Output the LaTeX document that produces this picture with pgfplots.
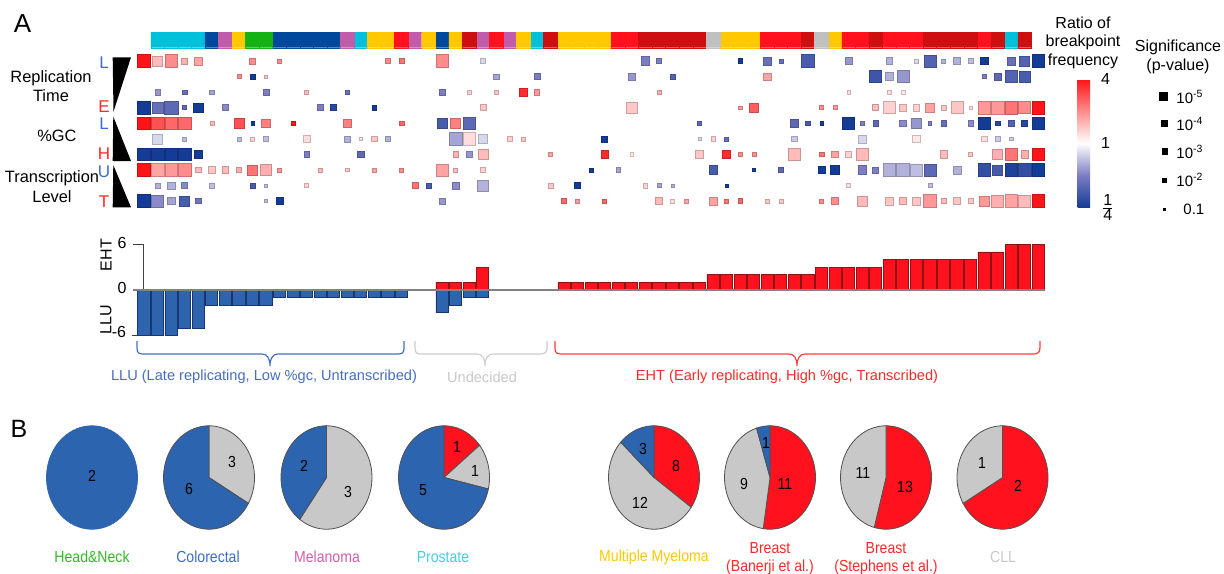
\documentclass[border=0pt]{standalone}
\usepackage{pgfplots}
\pgfplotsset{compat=1.18}
\usepackage{fontspec}
\setmainfont{Liberation Sans}
\newfontfamily\narrowfont[FakeStretch=0.88]{Liberation Sans}
\newcommand\fs[1]{\fontsize{#1}{#1}\selectfont}
\definecolor{cCyan}{RGB}{0,192,218}
\definecolor{cDBlue}{RGB}{0,72,155}
\definecolor{cPurple}{RGB}{192,92,170}
\definecolor{cYellow}{RGB}{255,200,0}
\definecolor{cGreen}{RGB}{20,178,20}
\definecolor{cRed}{RGB}{255,18,30}
\definecolor{cDRed}{RGB}{205,15,15}
\definecolor{cGray}{RGB}{192,192,192}
\definecolor{pBlue}{RGB}{44,100,175}
\definecolor{pGray}{RGB}{200,200,200}
\definecolor{pRed}{RGB}{255,18,30}
\definecolor{pEdge}{RGB}{80,80,80}
\definecolor{bBlue}{RGB}{46,99,174}
\definecolor{bBlueE}{RGB}{25,55,110}
\definecolor{bRed}{RGB}{255,18,30}
\definecolor{bRedE}{RGB}{140,20,20}
\definecolor{tBlue}{RGB}{60,110,200}
\definecolor{tRed}{RGB}{255,40,40}
\definecolor{lGreen}{RGB}{50,185,40}
\definecolor{lBlue}{RGB}{60,110,195}
\definecolor{lMag}{RGB}{205,95,175}
\definecolor{lCyan}{RGB}{70,205,225}
\definecolor{lYellow}{RGB}{255,200,0}
\definecolor{lGray}{RGB}{200,200,200}
\definecolor{zline}{RGB}{130,130,130}
\definecolor{brBlue}{RGB}{70,110,190}
\definecolor{brGray}{RGB}{205,205,205}
\definecolor{brRed}{RGB}{255,60,60}
\pgfplotsset{colormap={rb}{rgb255=(20,60,150) rgb255=(125,125,195) rgb255=(255,255,255) rgb255=(255,140,140) rgb255=(255,20,25)}}
\newcommand{\pie}[5]{\addplot[fill=#4, draw=#5, line width=0.4pt, domain=#2:#3, samples=72, variable=\ang] ({#1+45.5*sin(\ang)},{-477.5+51.7*cos(\ang)}) -- (axis cs:#1,-477.5) -- cycle;}
\begin{document}
\begin{tikzpicture}
\useasboundingbox (0,0) rectangle (612pt,-286.5pt);
% ---------------- category strip
\begin{axis}[at={(68.6pt,-23.85pt)}, anchor=south west, scale only axis,
  width=453.9pt, height=7.7pt, xmin=-0.5, xmax=66.5, ymin=0, ymax=1,
  hide axis, clip=false]
\addplot[ybar, bar width=1, bar shift=0pt, fill=cCyan, draw=cCyan, line width=0.2pt] coordinates {(1,1)(2,1)(3,1)(4,1)(16,1)(29,1)(64,1)};
\addplot[ybar, bar width=1, bar shift=0pt, fill=cDBlue, draw=cDBlue, line width=0.2pt] coordinates {(5,1)(10,1)(11,1)(12,1)(13,1)(14,1)(22,1)};
\addplot[ybar, bar width=1, bar shift=0pt, fill=cPurple, draw=cPurple, line width=0.2pt] coordinates {(6,1)(15,1)(20,1)(25,1)(27,1)};
\addplot[ybar, bar width=1, bar shift=0pt, fill=cYellow, draw=cYellow, line width=0.2pt] coordinates {(7,1)(17,1)(18,1)(21,1)(23,1)(28,1)(31,1)(32,1)(33,1)(34,1)(43,1)(44,1)(45,1)(51,1)};
\addplot[ybar, bar width=1, bar shift=0pt, fill=cGreen, draw=cGreen, line width=0.2pt] coordinates {(8,1)(9,1)};
\addplot[ybar, bar width=1, bar shift=0pt, fill=cRed, draw=cRed, line width=0.2pt] coordinates {(19,1)(26,1)(35,1)(36,1)(46,1)(47,1)(48,1)(52,1)(53,1)(55,1)(56,1)(57,1)(62,1)};
\addplot[ybar, bar width=1, bar shift=0pt, fill=cDRed, draw=cDRed, line width=0.2pt] coordinates {(24,1)(30,1)(37,1)(38,1)(39,1)(40,1)(41,1)(49,1)(54,1)(58,1)(59,1)(60,1)(61,1)(63,1)(65,1)};
\addplot[ybar, bar width=1, bar shift=0pt, fill=cGray, draw=cGray, line width=0.2pt] coordinates {(42,1)(50,1)};
\end{axis}
% ---------------- heatmap
\begin{axis}[at={(68.6pt,-104.4pt)}, anchor=south west, scale only axis,
  width=453.9pt, height=77.8pt, xmin=-0.5, xmax=66.5, ymin=-0.5, ymax=9.5,
  y dir=reverse, hide axis, clip=false,
  colormap name=rb, point meta min=-2, point meta max=2,
  colorbar, colorbar shift/.style={},
  colorbar style={at={(parent axis.north east)}, anchor=north west,
    xshift=16.35pt, yshift=-13.05pt,
    width=6.15pt, height=64pt, ytick={-2,0,2},
    yticklabels={{$\frac{\mbox{1}}{\mbox{4}}$},1,4},
    axis line style={draw=none}, major tick length=0pt,
    yticklabel style={font=\fs{8}, xshift=2pt}}]
\addplot[scatter, only marks, mark=square*, scatter src=explicit,
  mark options={line width=0.2pt},
  visualization depends on={\thisrow{s} \as \msz},
  scatter/@pre marker code/.append style={/tikz/mark size=\msz/12}]
  table[x=x, y=y, meta=c] {
x y c s
0 0 2 38
1 0 0.6 30
2 0 1.0 38
3 0 0.7 18
4 0 0.8 24
8 0 1.0 18
10 0 1.0 12
18 0 1.0 14
19 0 1.2 16
22 0 1.0 38
25 0 -0.3 14
37 0 -1.0 26
38 0 -1.0 14
44 0 -2 14
46 0 -1.2 24
47 0 -1.2 12
49 0 -1.5 38
52 0 -0.8 22
55 0 -0.6 20
57 0 -0.3 12
58 0 -1.4 36
59 0 -0.6 12
60 0 -0.6 20
61 0 -0.5 14
62 0 -2 22
64 0 -1.2 24
65 0 -1.4 30
66 0 -2 38
7 1 1.0 12
8 1 -2 14
9 1 0.5 10
26 1 -0.7 16
29 1 -1.0 18
36 1 -0.8 22
39 1 -1.4 14
46 1 0.8 22
54 1 -1.6 36
55 1 -0.6 24
56 1 -0.8 36
62 1 -1.0 12
63 1 -1.3 22
64 1 -1.4 36
65 1 -1.5 32
1 2 -0.8 16
3 2 -1.2 14
5 2 -0.7 14
9 2 -1.0 18
12 2 0.6 12
15 2 -1.2 14
22 2 -1.0 18
24 2 0.4 10
26 2 0.5 12
28 2 1.8 24
29 2 0.9 16
38 2 0.7 12
52 2 0.3 10
55 2 0.3 14
56 2 0.2 12
0 3 -2 38
1 3 -1.2 32
2 3 -1.3 40
3 3 -1.3 12
4 3 -2 28
6 3 -0.9 18
13 3 -1.0 18
14 3 -1.8 18
17 3 -2 14
25 3 0.5 18
36 3 0.5 32
44 3 0.9 10
45 3 1.4 26
50 3 1.0 12
51 3 0.9 12
54 3 0.6 18
55 3 0.4 36
56 3 0.5 22
57 3 0.4 20
58 3 0.8 28
59 3 0.5 16
60 3 0.5 36
61 3 0.3 10
62 3 0.9 38
63 3 0.9 38
64 3 1.2 38
65 3 1.0 36
66 3 2 38
0 4 2 38
1 4 1.5 38
2 4 1.3 38
3 4 1.3 38
5 4 0.6 12
7 4 1.5 30
8 4 -2 10
9 4 1.1 26
11 4 2 12
15 4 1.1 22
19 4 1.3 14
22 4 -1.5 32
23 4 1.1 30
24 4 -1.3 34
41 4 -1.3 12
48 4 -1.3 24
49 4 -1.5 14
50 4 -2 10
52 4 -2 36
53 4 -1.0 12
54 4 -1.3 16
56 4 -0.9 20
57 4 -0.8 30
58 4 -1.0 10
59 4 -1.2 16
61 4 -0.9 16
62 4 -2 34
63 4 -1.8 14
64 4 -1.4 20
65 4 -1.8 18
66 4 -2 38
1 5 -0.3 30
3 5 -0.5 12
7 5 -0.5 12
8 5 0.4 12
9 5 -0.5 16
12 5 0.3 20
15 5 -0.6 18
16 5 0.3 10
17 5 0.5 16
18 5 -0.6 16
23 5 -0.7 38
24 5 0.3 38
25 5 -0.3 28
27 5 0.4 16
28 5 0.5 12
34 5 -2 18
41 5 -0.3 10
42 5 0.4 14
43 5 -1.2 12
48 5 -0.4 16
53 5 -0.3 24
57 5 0.2 22
62 5 0.3 16
63 5 -0.4 14
64 5 -0.4 10
0 6 -2 38
1 6 -2 38
2 6 -2 38
3 6 -2 38
4 6 -2 26
12 6 -1.0 16
16 6 -1.3 20
23 6 0.7 16
24 6 -0.8 16
25 6 0.6 30
30 6 0.8 12
34 6 1.8 22
36 6 0.2 10
41 6 0.5 24
43 6 1.8 24
44 6 1.0 10
45 6 1.0 12
48 6 0.6 36
50 6 1.2 14
51 6 0.8 20
52 6 0.4 18
53 6 0.6 36
59 6 0.6 22
61 6 0.5 12
63 6 0.7 30
64 6 1.2 38
65 6 0.7 22
66 6 2 38
0 7 2 38
1 7 0.8 38
2 7 0.9 38
3 7 1.0 38
4 7 0.6 16
5 7 0.5 22
6 7 0.6 20
7 7 0.7 14
8 7 1.2 30
9 7 0.7 32
10 7 0.9 12
13 7 0.6 12
15 7 0.5 10
17 7 0.8 12
19 7 1.0 12
22 7 0.8 36
23 7 0.6 12
25 7 0.4 14
33 7 -2 12
35 7 -0.7 14
42 7 -1.5 26
45 7 -2 10
47 7 -1.3 16
50 7 -2 22
51 7 -2 26
53 7 -1.0 26
54 7 -1.0 18
55 7 -0.6 38
56 7 -0.6 38
57 7 -0.5 36
58 7 -1.3 36
60 7 -0.6 24
62 7 -1.7 38
63 7 -1.5 30
64 7 -1.9 38
65 7 -1.7 38
66 7 -2 38
1 8 -0.6 14
2 8 -0.6 22
3 8 -0.9 18
5 8 -0.5 14
8 8 -1.5 16
9 8 -0.5 10
12 8 0.4 12
20 8 1.2 18
21 8 -1.5 16
23 8 -0.9 20
25 8 -0.6 32
30 8 0.5 14
32 8 -2 18
37 8 0.4 14
38 8 -0.7 12
39 8 -0.6 10
43 8 -2 10
52 8 0.3 12
58 8 -0.5 12
0 9 -2 38
1 9 -0.9 36
2 9 -0.7 22
3 9 -1.5 30
4 9 -1.1 16
9 9 -0.5 10
10 9 -2 22
22 9 -0.8 18
31 9 1.3 14
32 9 0.9 12
34 9 1.3 12
38 9 0.6 20
39 9 0.3 12
40 9 0.8 12
42 9 0.8 24
43 9 1.2 12
44 9 1.3 14
46 9 0.5 12
47 9 0.5 12
50 9 1.0 12
51 9 1.0 20
53 9 0.6 30
55 9 0.5 24
56 9 0.6 20
57 9 0.5 24
58 9 0.9 38
59 9 0.6 16
60 9 0.5 20
61 9 0.5 16
62 9 0.9 30
63 9 0.7 36
64 9 0.8 38
65 9 0.6 36
66 9 2 38
};
% significance legend keys
\addplot[scatter, only marks, mark=square*, scatter src=explicit,
  scatter/use mapped color={draw=black, fill=black},
  mark options={line width=0.2pt},
  visualization depends on={\thisrow{s} \as \msz},
  scatter/@pre marker code/.append style={/tikz/mark size=\msz/12}]
  table[x=x, y=y, meta=c] {
x y c s
75.24 2.25 0 25
75.30 3.99 0 20
75.33 5.79 0 17
75.30 7.65 0 12
75.30 9.52 0 6
};
\end{axis}
% ---------------- bar chart
\begin{axis}[at={(68.6pt,-167.85pt)}, anchor=south west, scale only axis,
  width=453.9pt, height=45.7pt, xmin=-0.5, xmax=66.5, ymin=-6, ymax=6,
  hide axis, clip=false]
\draw[black!75, line width=0.5pt] (axis cs:-0.07,-6) -- (axis cs:-0.07,6) -- (axis cs:-0.8,6);
\draw[black!75, line width=0.5pt] (axis cs:-0.9,-6) -- (axis cs:-0.07,-6);
\addplot[ybar, bar width=0.9, bar shift=0pt, fill=bBlue, draw=bBlueE, line width=0.4pt] coordinates {
(0,-6)(1,-6)(2,-6)(3,-5)(4,-5)(5,-2)(6,-2)(7,-2)(8,-2)(9,-2)
(10,-1)(11,-1)(12,-1)(13,-1)(14,-1)(15,-1)(16,-1)(17,-1)(18,-1)(19,-1)
(22,-3)(23,-2)(24,-1)(25,-1)};
\addplot[ybar, bar width=0.9, bar shift=0pt, fill=bRed, draw=bRedE, line width=0.4pt] coordinates {
(22,1)(23,1)(24,1)(25,3)
(31,1)(32,1)(33,1)(34,1)(35,1)(36,1)(37,1)(38,1)(39,1)(40,1)(41,1)
(42,2)(43,2)(44,2)(45,2)(46,2)(47,2)(48,2)(49,2)
(50,3)(51,3)(52,3)(53,3)(54,3)
(55,4)(56,4)(57,4)(58,4)(59,4)(60,4)(61,4)
(62,5)(63,5)(64,6)(65,6)(66,6)};
\draw[zline, line width=0.6pt] (axis cs:-0.8,0) -- (axis cs:66.5,0);
\end{axis}
% ---------------- pies
\begin{axis}[at={(0pt,-286.5pt)}, anchor=south west, scale only axis,
  width=612pt, height=286.5pt, xmin=0, xmax=1224, ymin=-573, ymax=0,
  hide axis, clip=false]
% Head&Neck: LLU 2
\pie{92}{0}{360}{pBlue}{pBlue}
% Colorectal: undecided 3, LLU 6
\pie{209}{0}{120}{pGray}{pEdge}
\pie{209}{120}{360}{pBlue}{pEdge}
% Melanoma: undecided 3, LLU 2
\pie{326.5}{0}{216}{pGray}{pEdge}
\pie{326.5}{216}{360}{pBlue}{pEdge}
% Prostate: EHT 1, undecided 1, LLU 5
\pie{444}{0}{51.43}{pRed}{pEdge}
\pie{444}{51.43}{102.86}{pGray}{pEdge}
\pie{444}{102.86}{360}{pBlue}{pEdge}
% Multiple Myeloma: EHT 8, undecided 12, LLU 3
\pie{654}{0}{125.22}{pRed}{pEdge}
\pie{654}{125.22}{313.04}{pGray}{pEdge}
\pie{654}{313.04}{360}{pBlue}{pEdge}
% Breast (Banerji): EHT 11, undecided 9, LLU 1
\pie{770}{0}{188.57}{pRed}{pEdge}
\pie{770}{188.57}{342.86}{pGray}{pEdge}
\pie{770}{342.86}{360}{pBlue}{pEdge}
% Breast (Stephens): EHT 13, undecided 11
\pie{886}{0}{195}{pRed}{pEdge}
\pie{886}{195}{360}{pGray}{pEdge}
% CLL: EHT 2, undecided 1
\pie{1002.5}{0}{240}{pRed}{pEdge}
\pie{1002.5}{240}{360}{pGray}{pEdge}
\end{axis}
% ---------------- annotations (pixel coordinates)
\begin{scope}[x=0.5pt,y=-0.5pt]
\tikzset{t/.style={inner sep=0pt, font=\fs{8}}}
\node[t, font=\fs{13}] at (22.5,24) {A};
\node[t, font=\fontsize{8.2}{9.5}\selectfont, align=center] at (51,86.5) {Replication\\Time};
\node[t, font=\fs{8.2}] at (57,136) {\%GC};
\node[t, font=\fontsize{8.2}{10}\selectfont, align=center] at (52,187) {Transcription\\Level};
\node[t, font=\fs{8.5}, text=tBlue] at (104,63) {L};
\node[t, font=\fs{8.5}, text=tRed] at (104,107) {E};
\node[t, font=\fs{8.5}, text=tBlue] at (104,124) {L};
\node[t, font=\fs{8.5}, text=tRed] at (104,154) {H};
\node[t, font=\fs{8.5}, text=tBlue] at (104,172) {U};
\node[t, font=\fs{8.5}, text=tRed] at (104,202) {T};
\fill[black] (112.7,57.3) -- (131,57.3) -- (113.5,111.7) -- cycle;
\fill[black] (113.3,116.5) -- (131,161) -- (112.7,161) -- cycle;
\fill[black] (113.3,165) -- (131,207.3) -- (112.7,207.3) -- cycle;
% legend titles
\node[t, font=\fontsize{8}{9.25}\selectfont, align=center] at (1083,42.5) {Ratio of\\breakpoint\\frequency};
\node[t, font=\fontsize{8}{9.5}\selectfont, align=center] at (1178,56.5) {Significance\\(p-value)};
\node[t, font=\fs{7.5}, anchor=west] at (1176,97) {10\textsuperscript{-5}};
\node[t, font=\fs{7.5}, anchor=west] at (1176,124) {10\textsuperscript{-4}};
\node[t, font=\fs{7.5}, anchor=west] at (1176,152) {10\textsuperscript{-3}};
\node[t, font=\fs{7.5}, anchor=west] at (1176,180) {10\textsuperscript{-2}};
\node[t, font=\fs{7.5}, anchor=west] at (1183,209) {0.1};
% bar axis labels
\node[t, font=\fs{8}] at (122,243) {6};
\node[t, font=\fs{8}] at (122,288) {0};
\node[t, font=\fs{8}] at (119,332) {-6};
\node[t, font=\fs{8}, rotate=90] at (106,255) {EHT};
\node[t, font=\fs{8}, rotate=90] at (106,320) {LLU};
% braces
\draw[brBlue, line width=0.6pt]
  (137,341) -- (137,348) .. controls (137,353) and (139,354) .. (143,354) -- (262,354)
  .. controls (267,354) and (270,358) .. (270,366) .. controls (270,358) and (273,354) .. (278,354)
  -- (398,354) .. controls (402,354) and (404,353) .. (404,348) -- (404,341);
\draw[brGray, line width=0.6pt]
  (415,341) -- (415,348) .. controls (415,353) and (417,354) .. (421,354) -- (477,354)
  .. controls (482,354) and (485,358) .. (485,366) .. controls (485,358) and (488,354) .. (493,354)
  -- (540,354) .. controls (544,354) and (547,353) .. (547,348) -- (547,341);
\draw[brRed, line width=0.6pt]
  (555,341) -- (555,348) .. controls (555,353) and (557,354) .. (561,354) -- (789,354)
  .. controls (794,354) and (797,358) .. (797,366) .. controls (797,358) and (800,354) .. (805,354)
  -- (1033,354) .. controls (1037,354) and (1040,353) .. (1040,348) -- (1040,341);
\node[t, font=\fs{7.3}, text=brBlue] at (264,377) {LLU (Late replicating, Low \%gc, Untranscribed)};
\node[t, font=\fs{7.3}, text=lGray] at (482,377) {Undecided};
\node[t, font=\fs{7.3}, text=tRed] at (787,377) {EHT (Early replicating, High \%gc, Transcribed)};
% panel B
\node[t, font=\fs{12.5}] at (19,428.5) {B};
\tikzset{n/.style={inner sep=0pt, font=\narrowfont\fs{8}}}
\node[n] at (92,476) {2};
\node[n] at (232,462) {3};
\node[n] at (189,489) {6};
\node[n] at (304,466) {2};
\node[n] at (348,492) {3};
\node[n] at (457,447) {1};
\node[n] at (475,471) {1};
\node[n] at (423,490) {5};
\node[n] at (643,449) {3};
\node[n] at (676,466) {8};
\node[n] at (640,503) {12};
\node[n] at (766,443) {1};
\node[n] at (744,484) {9};
\node[n] at (785,484) {11};
\node[n] at (863,473) {11};
\node[n] at (905,487) {13};
\node[n] at (982,463) {1};
\node[n] at (1018,486) {2};
\tikzset{pl/.style={inner sep=0pt, font=\narrowfont\fontsize{8}{9}\selectfont, align=center}}
\node[pl, text=lGreen] at (92,557) {Head\&Neck};
\node[pl, text=lBlue] at (208,557) {Colorectal};
\node[pl, text=lMag] at (327,557) {Melanoma};
\node[pl, text=lCyan] at (443,557) {Prostate};
\node[pl, text=lYellow] at (654,557) {Multiple Myeloma};
\node[pl, text=tRed, anchor=north] at (770,542) {Breast\\(Banerji et al.)};
\node[pl, text=tRed, anchor=north] at (886,542) {Breast\\(Stephens et al.)};
\node[pl, text=lGray] at (1003,557) {CLL};
\end{scope}
\end{tikzpicture}
\end{document}
